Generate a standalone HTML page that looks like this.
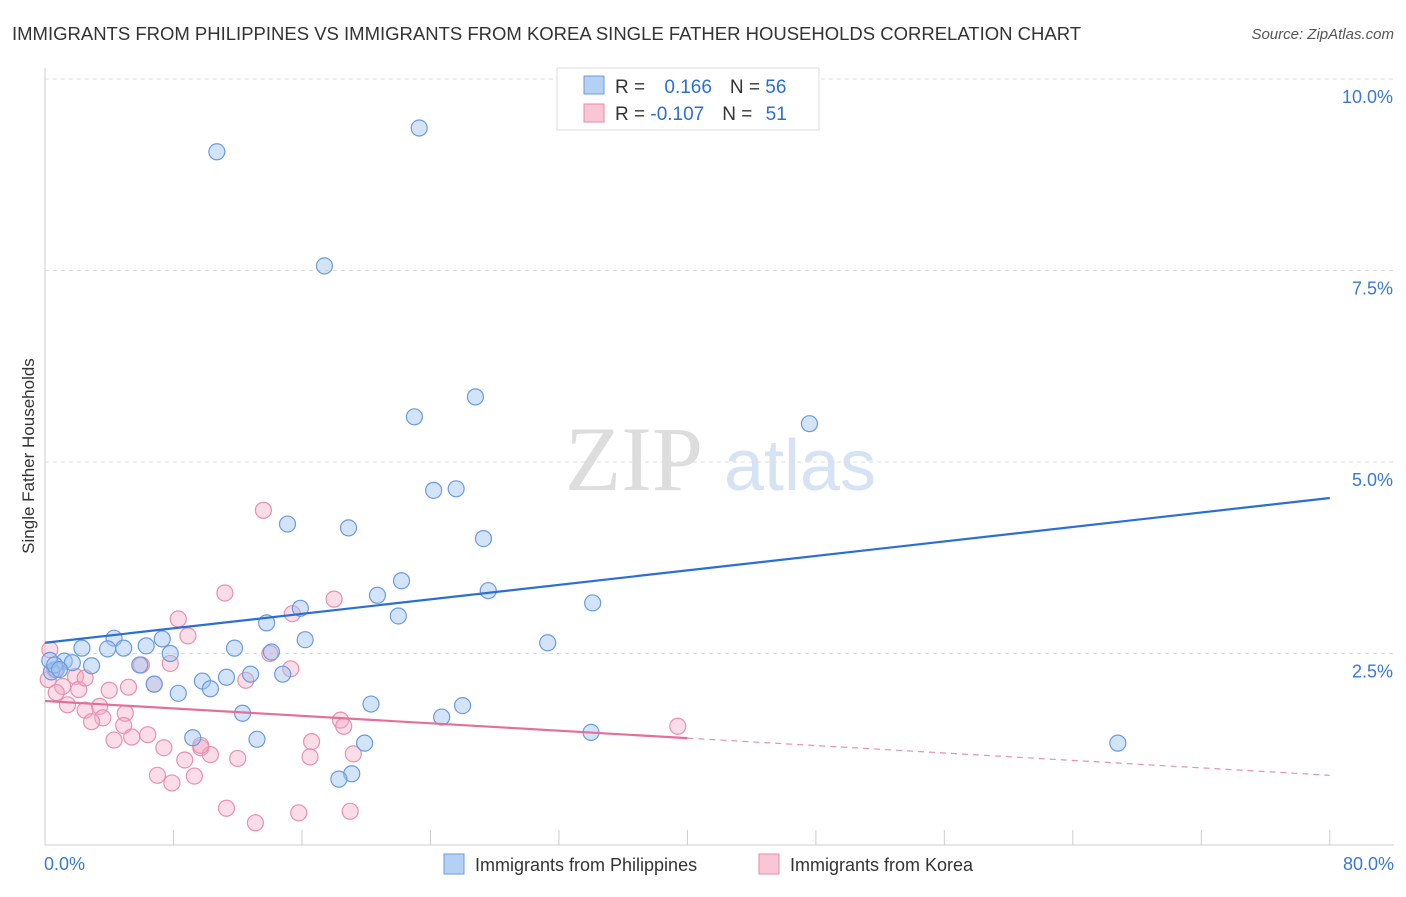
<!DOCTYPE html>
<html><head><meta charset="utf-8"><style>
body{margin:0;background:#fff;font-family:"Liberation Sans",sans-serif;}
svg text{font-family:"Liberation Sans",sans-serif;}
</style></head><body>
<svg width="1406" height="892" viewBox="0 0 1406 892">
<text x="12" y="40" font-size="18.5" fill="#333">IMMIGRANTS FROM PHILIPPINES VS IMMIGRANTS FROM KOREA SINGLE FATHER HOUSEHOLDS CORRELATION CHART</text>
<text x="1394" y="39" font-size="15" fill="#555" font-style="italic" text-anchor="end">Source: ZipAtlas.com</text>
<g>
<text x="634" y="490" font-size="92" fill="#ddd" text-anchor="middle" font-family="Liberation Serif" style="font-family:'Liberation Serif',serif">ZIP</text>
<text x="800" y="490" font-size="72" fill="#d5e3f5" text-anchor="middle">atlas</text>
</g>
<g id="grid"></g>
<g id="axes"></g>
<g id="marks"></g>
<g>
<rect x="557" y="68" width="262" height="62" fill="#fff" stroke="#ddd"/>
<rect x="584" y="76" width="20" height="18" fill="#b5d0f5" stroke="#6a9be0"/>
<rect x="584" y="104" width="20" height="18" fill="#f9c6d6" stroke="#e88aa8"/>
<text x="615" y="93" font-size="19" fill="#333">R = <tspan fill="#2a6fd6" dx="14">0.166</tspan><tspan dx="18" fill="#333">N = </tspan><tspan fill="#2a6fd6">56</tspan></text>
<text x="615" y="120" font-size="19" fill="#333">R = <tspan fill="#2a6fd6">-0.107</tspan><tspan dx="18" fill="#333">N = </tspan><tspan fill="#2a6fd6" dx="8">51</tspan></text>
</g>
<g>
<rect x="444" y="854" width="20" height="20" fill="#b5d0f5" stroke="#6a9be0"/>
<text x="475" y="871" font-size="18" fill="#333">Immigrants from Philippines</text>
<rect x="759" y="854" width="20" height="20" fill="#f9c6d6" stroke="#e88aa8"/>
<text x="790" y="871" font-size="18" fill="#333">Immigrants from Korea</text>
</g>
<text transform="translate(34,456) rotate(-90)" font-size="17" fill="#333" text-anchor="middle">Single Father Households</text>
</svg>
<script>
const yTicks=[2.5,5.0,7.5,10.0];
const yTickLabels=["2.5%","5.0%","7.5%","10.0%"];
const xTicks=[0,8,16,24,32,40,48,56,64,72,80];
const blueX=[10.7,23.3,17.4,26.8,23.0,47.6,24.2,25.6,15.1,18.9,27.3,22.2,20.7,27.6,34.1,22.0,15.9,13.8,16.2,31.3,7.3,4.3,2.3,3.9,4.9,6.3,11.8,14.1,7.8,5.9,1.2,1.7,2.9,0.7,0.4,9.8,11.3,12.8,14.8,6.8,8.3,10.3,12.3,20.3,24.7,26.0,34.0,66.8,9.2,13.2,19.9,19.1,18.3,0.3,0.6,0.9];
const blueY=[9.05,9.36,7.56,5.85,5.59,5.50,4.63,4.65,4.19,4.14,4.00,3.45,3.26,3.32,3.16,2.99,3.09,2.90,2.68,2.64,2.69,2.70,2.57,2.56,2.57,2.60,2.57,2.52,2.50,2.35,2.40,2.38,2.34,2.29,2.26,2.14,2.19,2.23,2.23,2.10,1.98,2.04,1.72,1.84,1.67,1.82,1.47,1.33,1.40,1.38,1.33,0.93,0.86,2.41,2.35,2.29];
const pinkX=[13.6,11.2,8.3,8.9,15.4,18.0,14.0,15.3,12.5,7.8,6.0,6.8,5.2,4.0,1.9,1.1,2.1,0.7,1.4,2.5,3.4,5.0,3.6,4.9,2.9,4.3,5.4,6.4,7.4,9.7,10.3,12.0,8.7,16.6,16.5,18.4,18.6,19.2,7.0,7.9,9.3,11.3,13.1,15.8,19.0,39.4,0.3,0.6,0.2,2.5,9.7];
const pinkY=[4.37,3.29,2.95,2.73,3.02,3.21,2.50,2.30,2.15,2.37,2.35,2.10,2.06,2.02,2.20,2.07,2.03,1.99,1.83,1.76,1.81,1.72,1.66,1.56,1.61,1.37,1.41,1.44,1.27,1.27,1.18,1.13,1.11,1.35,1.15,1.63,1.55,1.19,0.91,0.81,0.90,0.48,0.29,0.42,0.44,1.55,2.55,2.29,2.16,2.18,1.30];
const blueTrend=[2.64,4.53];
const pinkTrend=[1.88,0.91];
const NS="http://www.w3.org/2000/svg";
const X=v=>45+v*16.06, Y=v=>845-v*76.6;
function mk(t,a,p){const e=document.createElementNS(NS,t);for(const k in a)e.setAttribute(k,a[k]);document.getElementById(p).appendChild(e);return e;}
yTicks.forEach((t,i)=>{
 const g=mk('line',{x1:45,x2:1394,y1:Y(t),y2:Y(t),stroke:'#ddd','stroke-dasharray':'4,4'},'grid');
 
 
 const tx=mk('text',{x:1393,y:Y(t)+24,'font-size':18,fill:'#3a78d8','text-anchor':'end'},'axes');
 tx.textContent=yTickLabels[i];
 
 
});
const ya=mk('line',{x1:45,x2:45,y1:68,y2:845,stroke:'#ccc'},'axes');


const xa=mk('line',{x1:45,x2:1394,y1:845,y2:845,stroke:'#ccc'},'axes');


xTicks.forEach(t=>{const l=mk('line',{x1:X(t),x2:X(t),y1:830,y2:845,stroke:'#ccc'},'axes');
 
 });
[[0,"0.0%","start",44],[80,"80.0%","end",1394]].forEach(a=>{const t=mk('text',{x:a[3],y:870,'font-size':18,fill:'#3a78d8','text-anchor':a[2]},'axes');t.textContent=a[1];
 
 });
pinkX.forEach((v,i)=>{const c=mk('circle',{cx:X(v),cy:Y(pinkY[i]),r:8,fill:'rgba(244,170,196,0.4)',stroke:'#e890ad','stroke-width':1.2},'marks');
 
 });
blueX.forEach((v,i)=>{const c=mk('circle',{cx:X(v),cy:Y(blueY[i]),r:8,fill:'rgba(160,195,240,0.45)',stroke:'#6a9be0','stroke-width':1.2},'marks');
 
 });
const bl=mk('line',{x1:X(0),y1:Y(blueTrend[0]),x2:X(80),y2:Y(blueTrend[1]),stroke:'#2a6fd6','stroke-width':2.2},'marks');


const pm=pinkTrend[0]+(pinkTrend[1]-pinkTrend[0])*0.5;
const pl=mk('line',{x1:X(0),y1:Y(pinkTrend[0]),x2:X(40),y2:Y(pm),stroke:'#e4709a','stroke-width':2.2},'marks');


const pd=mk('line',{x1:X(40),y1:Y(pm),x2:X(80),y2:Y(pinkTrend[1]),stroke:'#e890ad','stroke-width':1.2,'stroke-dasharray':'6,5'},'marks');


</script>
</body></html>
